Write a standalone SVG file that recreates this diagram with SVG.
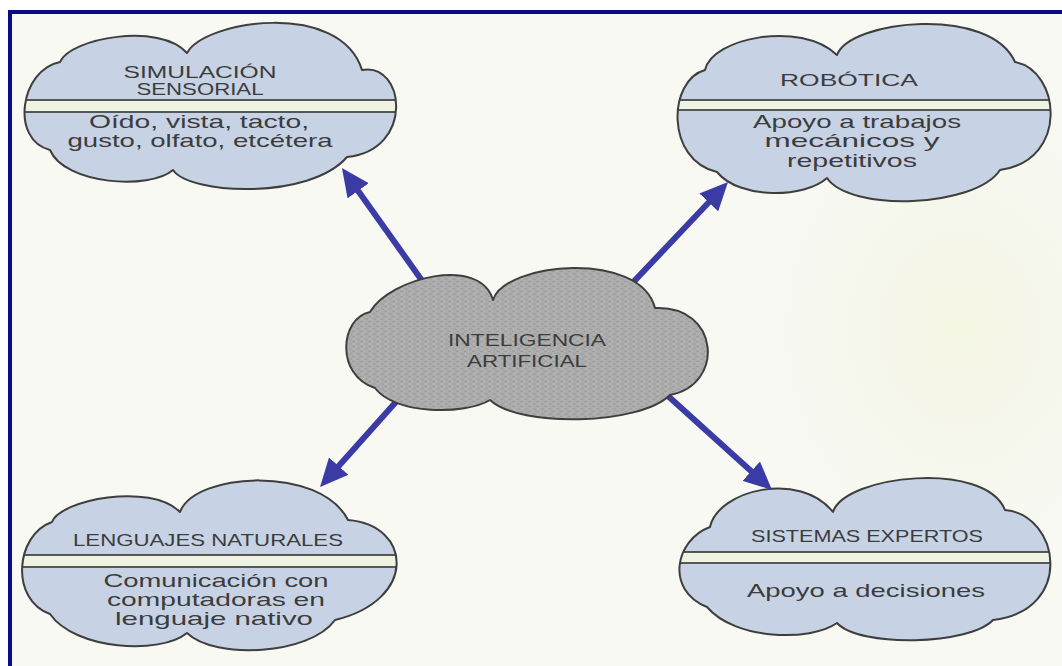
<svg xmlns="http://www.w3.org/2000/svg" xmlns:xlink="http://www.w3.org/1999/xlink" width="1062" height="666" viewBox="0 0 1062 666">
  <style>
    .cloud-fill { fill: #c7d3e4; stroke: none; }
    .core-fill { fill: url(#stipple); stroke: none; }
    .cloud-line { fill: none; stroke: #3e3e3e; stroke-width: 2; stroke-linejoin: round; }
    .band { fill: #eef3e2; stroke: #474747; stroke-width: 1.8; }
    .title { font-family: "Liberation Sans", Arial, sans-serif; font-size: 17px; fill: #3c3c3c; text-anchor: middle; }
    .body { font-family: "Liberation Sans", Arial, sans-serif; font-size: 19px; fill: #3c3c3c; text-anchor: middle; }
    .arrow { fill: none; stroke: #3b3ba6; stroke-width: 6; stroke-linecap: butt; marker-end: url(#head); }
  </style>
  <defs>
    <marker id="head" markerUnits="userSpaceOnUse" viewBox="0 0 28 26" markerWidth="28" markerHeight="26" refX="6" refY="13" orient="auto">
      <path d="M0,0 L28,13 L0,26 Z" fill="#3b3ba6"/>
    </marker>
    <pattern id="stipple" patternUnits="userSpaceOnUse" width="8" height="5">
      <rect width="8" height="5" fill="#acacac"/>
      <path d="M0,1.5 H3 M5,4 H8" stroke="#9d9d9d" stroke-width="1"/>
      <path d="M4,1.5 H5 M1,4 H3" stroke="#bababa" stroke-width="1"/>
    </pattern>
    <radialGradient id="wash" cx="0.5" cy="0.5" r="0.5">
      <stop offset="0" stop-color="#f0f2d8" stop-opacity="0.6"/>
      <stop offset="1" stop-color="#f0f2d8" stop-opacity="0"/>
    </radialGradient>

    <path id="shape-sim" d="M60,62 C70,38 160,22 187,53 C205,20 340,0 362,70 C405,62 415,150 347,157 C310,200 190,195 173,170 C150,190 65,185 50,150 C10,140 20,70 60,62 Z"/>
    <path id="shape-rob" d="M705,70 C712,38 800,20 837,55 C850,20 990,5 1015,62 C1060,70 1070,160 1000,170 C975,208 850,212 827,178 C805,198 740,200 717,172 C665,160 668,80 705,70 Z"/>
    <path id="shape-len" d="M52,522 C60,500 150,482 180,512 C195,472 320,465 348,520 C412,525 418,600 335,620 C310,655 215,660 187,633 C160,655 75,650 50,614 C10,600 15,535 52,522 Z"/>
    <path id="shape-sis" d="M710,527 C718,490 800,470 833,512 C845,475 985,460 1005,510 C1060,515 1075,610 993,620 C970,645 860,648 837,623 C810,642 735,640 707,607 C665,590 675,540 710,527 Z"/>
    <path id="shape-ia" d="M370,312 C390,278 480,255 493,300 C505,262 640,250 655,308 C720,305 725,385 670,395 C640,425 520,428 490,400 C465,415 395,415 375,388 C335,375 340,318 370,312 Z"/>

    <clipPath id="clip-sim"><use xlink:href="#shape-sim"/></clipPath>
    <clipPath id="clip-rob"><use xlink:href="#shape-rob"/></clipPath>
    <clipPath id="clip-len"><use xlink:href="#shape-len"/></clipPath>
    <clipPath id="clip-sis"><use xlink:href="#shape-sis"/></clipPath>
  </defs>

  <!-- page -->
  <rect width="1062" height="666" fill="#ffffff"/>
  <rect x="8" y="10" width="1054" height="656" fill="#f8f9f3"/>
  <ellipse cx="960" cy="330" rx="190" ry="230" fill="url(#wash)"/>
  <!-- frame (top and left edges) -->
  <rect x="8" y="10" width="1054" height="4" fill="#0b0b86"/>
  <rect x="8" y="10" width="4" height="656" fill="#0b0b86"/>

  <!-- Simulación sensorial -->
  <g id="node-simulacion">
    <use xlink:href="#shape-sim" class="cloud-fill"/>
    <rect class="band" x="10" y="100" width="400" height="12" clip-path="url(#clip-sim)"/>
    <use xlink:href="#shape-sim" class="cloud-line"/>
    <text class="title" x="200" y="78" textLength="153" lengthAdjust="spacingAndGlyphs">SIMULACIÓN</text>
    <text class="title" x="200" y="95" textLength="127" lengthAdjust="spacingAndGlyphs">SENSORIAL</text>
    <text class="body" x="199" y="128" textLength="220" lengthAdjust="spacingAndGlyphs">Oído, vista, tacto,</text>
    <text class="body" x="200" y="147" textLength="265" lengthAdjust="spacingAndGlyphs">gusto, olfato, etcétera</text>
  </g>

  <!-- Robótica -->
  <g id="node-robotica">
    <use xlink:href="#shape-rob" class="cloud-fill"/>
    <rect class="band" x="660" y="100" width="410" height="10" clip-path="url(#clip-rob)"/>
    <use xlink:href="#shape-rob" class="cloud-line"/>
    <text class="title" x="849" y="86" textLength="138" lengthAdjust="spacingAndGlyphs">ROBÓTICA</text>
    <text class="body" x="857" y="128" textLength="208" lengthAdjust="spacingAndGlyphs">Apoyo a trabajos</text>
    <text class="body" x="852" y="147" textLength="175" lengthAdjust="spacingAndGlyphs">mecánicos y</text>
    <text class="body" x="852" y="167" textLength="130" lengthAdjust="spacingAndGlyphs">repetitivos</text>
  </g>

  <!-- Lenguajes naturales -->
  <g id="node-lenguajes">
    <use xlink:href="#shape-len" class="cloud-fill"/>
    <rect class="band" x="10" y="555" width="410" height="12" clip-path="url(#clip-len)"/>
    <use xlink:href="#shape-len" class="cloud-line"/>
    <text class="title" x="208" y="546" textLength="270" lengthAdjust="spacingAndGlyphs">LENGUAJES NATURALES</text>
    <text class="body" x="216" y="587" textLength="225" lengthAdjust="spacingAndGlyphs">Comunicación con</text>
    <text class="body" x="216" y="606" textLength="218" lengthAdjust="spacingAndGlyphs">computadoras en</text>
    <text class="body" x="214" y="625" textLength="198" lengthAdjust="spacingAndGlyphs">lenguaje nativo</text>
  </g>

  <!-- Sistemas expertos -->
  <g id="node-sistemas">
    <use xlink:href="#shape-sis" class="cloud-fill"/>
    <rect class="band" x="660" y="552" width="420" height="11" clip-path="url(#clip-sis)"/>
    <use xlink:href="#shape-sis" class="cloud-line"/>
    <text class="title" x="867" y="542" textLength="232" lengthAdjust="spacingAndGlyphs">SISTEMAS EXPERTOS</text>
    <text class="body" x="866" y="597" textLength="238" lengthAdjust="spacingAndGlyphs">Apoyo a decisiones</text>
  </g>

  <!-- connectors from the central idea outwards -->
  <g id="connectors">
    <line class="arrow" x1="431.7" y1="294.2" x2="354.7" y2="185.9"/>
    <line class="arrow" x1="629.7" y1="285.9" x2="712.9" y2="198"/>
    <line class="arrow" x1="397" y1="400.8" x2="334.7" y2="470.6"/>
    <line class="arrow" x1="666.9" y1="394.9" x2="755.7" y2="475.2"/>
  </g>

  <!-- Inteligencia artificial (central idea) -->
  <g id="node-inteligencia">
    <use xlink:href="#shape-ia" class="core-fill"/>
    <use xlink:href="#shape-ia" class="cloud-line"/>
    <text class="title" x="527" y="346" textLength="158" lengthAdjust="spacingAndGlyphs">INTELIGENCIA</text>
    <text class="title" x="527" y="367" textLength="120" lengthAdjust="spacingAndGlyphs">ARTIFICIAL</text>
  </g>
</svg>
